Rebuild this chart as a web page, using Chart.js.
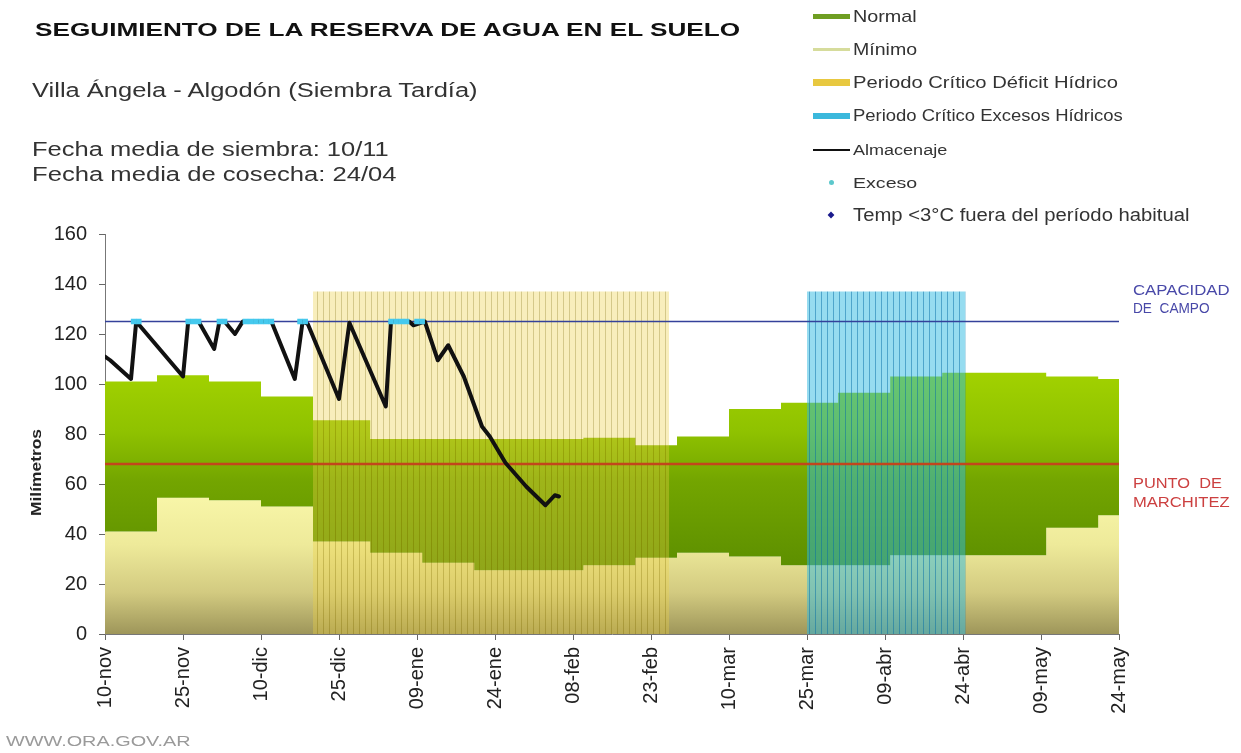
<!DOCTYPE html>
<html lang="es">
<head>
<meta charset="utf-8">
<title>Seguimiento de la reserva de agua en el suelo</title>
<script src="https://cdn.jsdelivr.net/npm/chart.js@4.4.1/dist/chart.umd.min.js"></script>
<style>
  html, body { margin: 0; padding: 0; background: #fff; }
  #wrap { position: relative; width: 1241px; height: 753px; overflow: hidden;
          font-family: "Liberation Sans", Arial, sans-serif; color: #333; }
  #wrap canvas { position: absolute; left: 0; top: 0; }
  .txt { position: absolute; white-space: pre; line-height: 1; transform-origin: 0 0; }
  .mark { position: absolute; }
</style>
</head>
<body>
<div id="wrap">
  <canvas id="chart" width="1241" height="753"></canvas>

  <div class="txt" data-w="705" style="left:35px;top:20.6px;font-size:18px;font-weight:bold;color:#111">SEGUIMIENTO DE LA RESERVA DE AGUA EN EL SUELO</div>
  <div class="txt" data-w="445" style="left:32px;top:80.4px;font-size:20px">Villa Ángela - Algodón (Siembra Tardía)</div>
  <div class="txt" data-w="357" style="left:32px;top:139.4px;font-size:20px">Fecha media de siembra: 10/11</div>
  <div class="txt" data-w="365" style="left:32px;top:164.4px;font-size:20px">Fecha media de cosecha: 24/04</div>

  <div class="txt" data-w="97" style="left:1133px;top:283.4px;font-size:14px;color:#4848a8">CAPACIDAD</div>
  <div class="txt" data-w="77" style="left:1133px;top:301.4px;font-size:14px;color:#4848a8">DE  CAMPO</div>
  <div class="txt" data-w="89" style="left:1133px;top:476.4px;font-size:14px;color:#cc4040">PUNTO  DE</div>
  <div class="txt" data-w="97" style="left:1133px;top:495.4px;font-size:14px;color:#cc4040">MARCHITEZ</div>

  <div class="txt" data-w="184" style="left:6px;top:733.3px;font-size:15px;color:#9a9a9a">WWW.ORA.GOV.AR</div>

  <div class="txt" id="ytitle" data-w="87" style="font-size:15px;font-weight:bold;color:#222">Milímetros</div>
</div>

<script>
// eje x: dias desde el 10-nov
var xLabels = ['10-nov', '25-nov', '10-dic', '25-dic', '09-ene', '24-ene', '08-feb', '23-feb',
               '10-mar', '25-mar', '09-abr', '24-abr', '09-may', '24-may'];

// bandas por decada (dia de inicio)
var dekadDay  = [0, 10, 20, 30, 40, 51, 61, 71, 82, 92, 102, 110, 120, 130, 141, 151, 161, 171, 181, 191, 195];
var normalMax = [101, 103.5, 101, 95, 85.5, 78, 78, 78, 78, 78.5, 75.5, 79, 90, 92.5, 96.5, 103, 104.5, 104.5, 103, 102, 102];
var minimoMax = [41, 54.5, 53.5, 51, 37, 32.5, 28.5, 25.5, 25.5, 27.5, 30.5, 32.5, 31, 27.5, 27.5, 31.5, 31.5, 31.5, 42.5, 47.5, 47.5];

// periodos criticos [inicio, fin] en dias
var periodoDeficit = [40, 108.5];
var periodoExcesos = [135, 165.5];
var alturaPeriodo = 137;

// almacenaje observado
var almDays = [0, 1, 5, 6, 15, 16, 18, 21, 22, 23, 25, 26.5, 32, 36.5, 38, 39, 45, 47, 54, 55,
               58.5, 59.3, 61.5, 64, 66, 69, 72.5, 74, 77, 81, 84.7, 86.5, 87.3];
var almVals = [111, 109.5, 102, 125, 103, 125, 125, 114, 125, 125, 120, 125, 125, 102, 125, 124, 94, 124.5, 91, 125,
               125, 123.5, 125, 109.5, 115.5, 103, 83, 79, 68.5, 59, 51.5, 55.5, 55];

// excesos
var excesoDays = [5.5, 6.5, 16, 17, 18, 22, 23, 27, 28, 29, 30, 31, 32, 37.5, 38.5, 55, 56, 57, 58, 60, 61];
var excesoVals = [125, 125, 125, 125, 125, 125, 125, 125, 125, 125, 125, 125, 125, 125, 125, 125, 125, 125, 125, 125, 125];

var capacidadCampo = 125;
var puntoMarchitez = 68;

function pts(xs, ys) {
  return xs.map(function (x, i) { return { x: x, y: ys[i] }; });
}

function gradient(chart, fromVal, toVal, stops) {
  var y = chart.scales.y;
  var g = chart.ctx.createLinearGradient(0, y.getPixelForValue(fromVal), 0, y.getPixelForValue(toVal));
  stops.forEach(function (s) { g.addColorStop(s[0], s[1]); });
  return g;
}

function hatch(fill, line) {
  var c = document.createElement('canvas');
  c.width = 6; c.height = 4;
  var g = c.getContext('2d');
  g.fillStyle = fill; g.fillRect(0, 0, 5, 4);
  g.fillStyle = line; g.fillRect(5, 0, 1, 4);
  return document.getElementById('chart').getContext('2d').createPattern(c, 'repeat');
}

var normalStops = [[0, '#a2d200'], [0.3, '#8fc200'], [0.55, '#73a500'], [1, '#5c8e00']];
var minimoStops = [[0, '#f8f6a8'], [0.35, '#eeea9a'], [0.7, '#d2ca80'], [1, '#9e965a']];

var chart = new Chart(document.getElementById('chart'), {
  type: 'line',
  data: {
    datasets: [{
      label: 'Normal',
      data: pts(dekadDay, normalMax),
      stepped: true, fill: 1, borderWidth: 0, pointRadius: 0, order: 6,
      backgroundColor: function (c) { return c.chart.chartArea ? gradient(c.chart, 105, 25, normalStops) : '#80b000'; },
      mark: 'line', markColor: '#6f9e22', markSize: 5
    }, {
      label: 'Mínimo',
      data: pts(dekadDay, minimoMax),
      stepped: true, fill: 'origin', borderWidth: 0, pointRadius: 0, order: 7,
      backgroundColor: function (c) { return c.chart.chartArea ? gradient(c.chart, 55, 0, minimoStops) : '#eeea9a'; },
      mark: 'line', markColor: '#d6dc9c', markSize: 3
    }, {
      label: 'Periodo Crítico Déficit Hídrico',
      data: pts(periodoDeficit, [alturaPeriodo, alturaPeriodo]),
      fill: 'origin', borderWidth: 0, pointRadius: 0, order: 5,
      backgroundColor: hatch('rgba(236,208,70,0.36)', 'rgba(170,145,20,0.5)'),
      mark: 'line', markColor: '#e8c840', markSize: 7
    }, {
      label: 'Periodo Crítico Excesos Hídricos',
      data: pts(periodoExcesos, [alturaPeriodo, alturaPeriodo]),
      fill: 'origin', borderWidth: 0, pointRadius: 0, order: 4,
      backgroundColor: hatch('rgba(45,185,225,0.5)', 'rgba(20,135,185,0.75)'),
      mark: 'line', markColor: '#3bb8dc', markSize: 6
    }, {
      label: 'Almacenaje',
      data: pts(almDays, almVals),
      borderColor: '#111', borderWidth: 4, borderJoinStyle: 'round', borderCapStyle: 'round',
      pointRadius: 0, fill: false, order: 1,
      mark: 'line', markColor: '#111', markSize: 2.5
    }, {
      label: 'Exceso',
      data: pts(excesoDays, excesoVals),
      showLine: false, fill: false, order: 0,
      pointStyle: 'rect', pointRadius: 3.9, pointBackgroundColor: '#45c9ee', pointBorderWidth: 0,
      mark: 'dot', markColor: '#5cc8cc', markSize: 5
    }, {
      label: 'Temp <3°C fuera del período habitual',
      data: [],
      showLine: false, fill: false, order: 0,
      pointStyle: 'rectRot', pointRadius: 4, pointBackgroundColor: '#1a1a8c',
      mark: 'diamond', markColor: '#1a1a8c', markSize: 6
    }, {
      label: 'capacidad',
      data: pts([0, 195], [capacidadCampo, capacidadCampo]),
      borderColor: '#34419a', borderWidth: 1.3, pointRadius: 0, fill: false, order: 2
    }, {
      label: 'marchitez',
      data: pts([0, 195], [puntoMarchitez, puntoMarchitez]),
      borderColor: '#c2461c', borderWidth: 2.5, pointRadius: 0, fill: false, order: 3
    }]
  },
  options: {
    responsive: false,
    animation: false,
    devicePixelRatio: 1,
    layout: { padding: { left: 0, top: 234, right: 122, bottom: 0 } },
    plugins: {
      legend: { display: false },
      tooltip: { enabled: false },
      filler: { propagate: false }
    },
    scales: {
      x: {
        type: 'linear', min: 0, max: 195,
        afterFit: function (s) { s.height = 119; },
        ticks: {
          stepSize: 15, autoSkip: false, minRotation: 90, maxRotation: 90, padding: 7,
          color: '#222', font: { family: '"Liberation Sans", Arial, sans-serif', size: 20 },
          callback: function (v, i) { return xLabels[i]; }
        },
        grid: { display: true, drawOnChartArea: false, drawTicks: true, tickLength: 6, color: '#666' },
        border: { display: true, color: '#777' }
      },
      y: {
        min: 0, max: 160,
        afterFit: function (s) { s.width = 105; },
        ticks: {
          stepSize: 20, padding: 12,
          color: '#222', font: { family: '"Liberation Sans", Arial, sans-serif', size: 20 }
        },
        grid: { display: true, drawOnChartArea: false, drawTicks: true, tickLength: 6, color: '#666' },
        border: { display: true, color: '#777' }
      }
    }
  }
});

// leyenda html
var wrap = document.getElementById('wrap');
var legendY = [16, 49, 82.3, 116, 150, 182, 215];
var legendFont = [17, 16.5, 17, 16, 14, 15, 17.5];
var legendWidth = [64, 64, 265, 270, 94, 64, 337];
chart.data.datasets.filter(function (ds) { return ds.mark; }).forEach(function (ds, i) {
  var cy = legendY[i];
  var m = document.createElement('div');
  m.className = 'mark';
  if (ds.mark === 'line') {
    m.style.left = '813px'; m.style.width = '37px';
    m.style.top = (cy - ds.markSize / 2) + 'px'; m.style.height = ds.markSize + 'px';
  } else {
    m.style.left = (831 - ds.markSize / 2) + 'px'; m.style.top = (cy - ds.markSize / 2) + 'px';
    m.style.width = ds.markSize + 'px'; m.style.height = ds.markSize + 'px';
    if (ds.mark === 'dot') m.style.borderRadius = '50%';
    else m.style.transform = 'rotate(45deg) scale(0.8)';
  }
  m.style.background = ds.markColor;
  wrap.appendChild(m);

  var t = document.createElement('div');
  t.className = 'txt';
  t.textContent = ds.label;
  t.style.left = '853px';
  t.style.fontSize = legendFont[i] + 'px';
  t.style.top = (cy - 0.472 * legendFont[i]) + 'px';
  t.setAttribute('data-w', legendWidth[i]);
  wrap.appendChild(t);
});

// ajustar ancho de textos
document.querySelectorAll('.txt').forEach(function (el) {
  var nw = el.offsetWidth;
  var k = el.getAttribute('data-w') / nw;
  if (el.id === 'ytitle') {
    var fs = parseFloat(el.style.fontSize);
    el.style.left = (35 - nw / 2) + 'px';
    el.style.top = (472.5 - fs / 2) + 'px';
    el.style.transformOrigin = '50% 50%';
    el.style.transform = 'rotate(-90deg) scaleX(' + k + ')';
  } else {
    el.style.transform = 'scaleX(' + k + ')';
  }
});
</script>
</body>
</html>
